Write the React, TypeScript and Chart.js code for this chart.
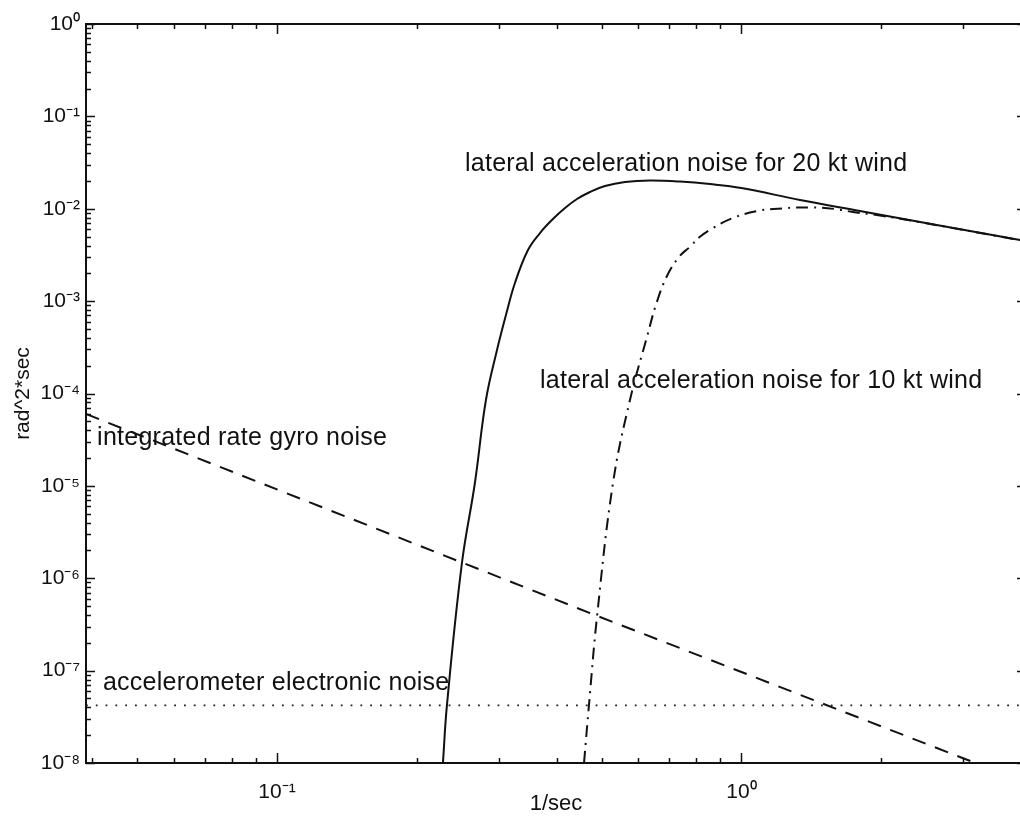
import React, { useEffect, useRef } from "react";
import { Chart, registerables } from "chart.js";

Chart.register(...registerables);

// ---- data (x in 1/sec, y in rad^2*sec) ----
const WIND20_FREQ = [
  0.2277, 0.2323, 0.2502, 0.2668, 0.2818, 0.2977, 0.3112, 0.3254, 0.3471, 0.3684, 0.3928, 0.4171,
  0.4426, 0.4721, 0.5085, 0.5615, 0.6355, 0.7375, 0.8558, 1.0, 1.337, 1.8, 2.425, 3.98,
];
const WIND20_PSD = [
  1e-8, 4.25e-8, 1.463e-6, 1.074e-5, 8.5e-5, 2.957e-4, 7.08e-4, 1.571e-3, 3.576e-3, 5.46e-3, 7.74e-3, 1.019e-2,
  1.275e-2, 1.518e-2, 1.763e-2, 1.949e-2, 2.022e-2, 1.972e-2, 1.853e-2, 1.677e-2, 1.244e-2, 9.45e-3, 7.19e-3, 4.59e-3,
];

const WIND10_FREQ = [
  0.4583, 0.4697, 0.4887, 0.5291, 0.5755, 0.6261, 0.6565, 0.6898, 0.7336, 0.775, 0.8143, 0.8685,
  0.9592, 1.0804, 1.2293, 1.405, 1.591, 1.739, 1.988, 2.425, 3.98,
];
const WIND10_PSD = [
  1e-8, 4.25e-8, 3.81e-7, 1.074e-5, 8.5e-5, 4.09e-4, 9.54e-4, 1.824e-3, 3.004e-3, 3.88e-3, 4.98e-3, 6.19e-3,
  7.94e-3, 9.45e-3, 1.011e-2, 1.032e-2, 9.94e-3, 9.22e-3, 8.45e-3, 7.15e-3, 4.57e-3,
];

const GYRO_FREQ = [0.0388, 0.49, 3.19];
const GYRO_PSD = [6.0e-5, 3.9e-7, 1.0e-8];

const ACCEL_FREQ = [0.0388, 4.0];
const ACCEL_PSD = [4.2e-8, 4.2e-8];

const X_TICKS = [0.1, 1];
const X_TICK_LABELS = ["10\u207B\u00B9", "10\u2070"];
const Y_TICKS = [1e-8, 1e-7, 1e-6, 1e-5, 1e-4, 1e-3, 1e-2, 1e-1, 1];
const Y_TICK_LABELS = [
  "10\u207B\u2078",
  "10\u207B\u2077",
  "10\u207B\u2076",
  "10\u207B\u2075",
  "10\u207B\u2074",
  "10\u207B\u00B3",
  "10\u207B\u00B2",
  "10\u207B\u00B9",
  "10\u2070",
];

const X_TITLE = "1/sec";
const Y_TITLE = "rad^2*sec";

const ANNOTATION_TEXTS = [
  "lateral acceleration noise for 20 kt wind",
  "lateral acceleration noise for 10 kt wind",
  "integrated rate gyro noise",
  "accelerometer electronic noise",
];
// anchors (left, baseline) in data coordinates
const ANNOTATION_X = [0.254, 0.3684, 0.041, 0.0422];
const ANNOTATION_Y = [0.0256, 1.15e-4, 2.77e-5, 6.17e-8];

const FONT = "'Liberation Sans', Arial, Helvetica, sans-serif";
const INK = "#111";

const pts = (xs: number[], ys: number[]) => xs.map((x, i) => ({ x, y: ys[i] }));

const framePlugin = {
  id: "frameTicks",
  afterDatasetsDraw(chart: any) {
    const { ctx, chartArea, scales } = chart;
    const { left, right, top, bottom } = chartArea;
    const xs = scales.x;
    const ys = scales.y;
    ctx.save();
    ctx.strokeStyle = INK;
    ctx.lineWidth = 2;
    ctx.strokeRect(left, top, right - left, bottom - top);
    ctx.lineWidth = 1.5;
    ctx.beginPath();
    for (let e = -3; e <= 1; e++) {
      for (let k = 1; k <= 9; k++) {
        const v = k * Math.pow(10, e);
        if (v < xs.min || v > xs.max) continue;
        const p = Math.round(xs.getPixelForValue(v)) + 0.5;
        const len = k === 1 ? 10 : 5;
        ctx.moveTo(p, bottom);
        ctx.lineTo(p, bottom - len);
        ctx.moveTo(p, top);
        ctx.lineTo(p, top + len);
      }
    }
    for (let e = -9; e <= 0; e++) {
      for (let k = 1; k <= 9; k++) {
        const v = k * Math.pow(10, e);
        if (v < ys.min * 0.999 || v > ys.max * 1.001) continue;
        const p = Math.round(ys.getPixelForValue(v)) + 0.5;
        const len = k === 1 ? 9 : 5;
        ctx.moveTo(left, p);
        ctx.lineTo(left + len, p);
        ctx.moveTo(right, p);
        ctx.lineTo(right - len, p);
      }
    }
    ctx.stroke();

    ctx.fillStyle = INK;
    ctx.font = `25px ${FONT}`;
    ctx.textAlign = "left";
    ctx.textBaseline = "alphabetic";
    try {
      (ctx as any).letterSpacing = "0.25px";
    } catch (e) {}
    ANNOTATION_TEXTS.forEach((t, i) => {
      const px = xs.getPixelForValue(ANNOTATION_X[i]);
      const py = ys.getPixelForValue(ANNOTATION_Y[i]);
      ctx.fillText(t, px, py);
    });
    try {
      (ctx as any).letterSpacing = "0px";
    } catch (e) {}
    ctx.restore();
  },
};

export default function App() {
  const ref = useRef<HTMLCanvasElement | null>(null);

  useEffect(() => {
    if (!ref.current) return;
    const chart = new Chart(ref.current, {
      type: "line",
      data: {
        datasets: [
          {
            label: "lateral acceleration noise for 20 kt wind",
            data: pts(WIND20_FREQ, WIND20_PSD),
            borderColor: INK,
            borderWidth: 2,
            pointRadius: 0,
            tension: 0.4,
            fill: false,
          },
          {
            label: "lateral acceleration noise for 10 kt wind",
            data: pts(WIND10_FREQ, WIND10_PSD),
            borderColor: INK,
            borderWidth: 2,
            borderDash: [12, 6, 2, 6],
            pointRadius: 0,
            tension: 0.4,
            fill: false,
          },
          {
            label: "integrated rate gyro noise",
            data: pts(GYRO_FREQ, GYRO_PSD),
            borderColor: INK,
            borderWidth: 2,
            borderDash: [14, 10],
            pointRadius: 0,
            tension: 0,
            fill: false,
          },
          {
            label: "accelerometer electronic noise",
            data: pts(ACCEL_FREQ, ACCEL_PSD),
            borderColor: "#222",
            borderWidth: 1.8,
            borderDash: [1.8, 8],
            pointRadius: 0,
            tension: 0,
            fill: false,
          },
        ],
      },
      options: {
        animation: false,
        responsive: false,
        devicePixelRatio: 1,
        layout: { padding: { top: 24, left: 0, right: 0, bottom: 0 } },
        plugins: {
          legend: { display: false },
          tooltip: { enabled: false },
        },
        scales: {
          x: {
            type: "logarithmic",
            min: 0.0388,
            max: 4.1,
            grid: { display: false, drawTicks: false },
            border: { display: false },
            afterBuildTicks: (s: any) => {
              s.ticks = X_TICKS.map((v) => ({ value: v }));
            },
            afterFit: (s: any) => {
              s.height = 54;
            },
            ticks: {
              autoSkip: false,
              maxRotation: 0,
              padding: 17,
              color: INK,
              font: { family: FONT, size: 21 },
              callback: (_v: any, i: number) => X_TICK_LABELS[i],
            },
            title: {
              display: true,
              text: X_TITLE,
              color: INK,
              font: { family: FONT, size: 22 },
              padding: { top: 0, bottom: 0 },
            },
          },
          y: {
            type: "logarithmic",
            min: 1e-8,
            max: 1,
            grid: { display: false, drawTicks: false },
            border: { display: false },
            afterBuildTicks: (s: any) => {
              s.ticks = Y_TICKS.map((v) => ({ value: v }));
            },
            afterFit: (s: any) => {
              s.width = 86;
            },
            ticks: {
              autoSkip: false,
              padding: 6,
              color: INK,
              font: { family: FONT, size: 21 },
              callback: (_v: any, i: number) => Y_TICK_LABELS[i],
            },
            title: {
              display: true,
              text: Y_TITLE,
              color: INK,
              font: { family: FONT, size: 21 },
              padding: { top: 11, bottom: 0 },
            },
          },
        },
      },
      plugins: [framePlugin],
    });
    return () => chart.destroy();
  }, []);

  return (
    <div
      style={{
        position: "fixed",
        left: 0,
        top: 0,
        width: 1020,
        height: 817,
        overflow: "hidden",
        background: "#fff",
      }}
    >
      <canvas ref={ref} width={1026} height={817} style={{ width: 1026, height: 817, display: "block" }} />
    </div>
  );
}
